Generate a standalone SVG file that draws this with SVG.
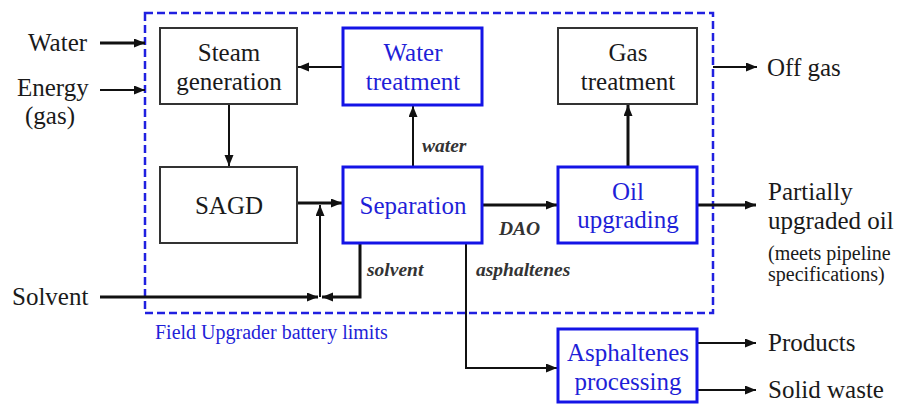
<svg xmlns="http://www.w3.org/2000/svg" width="899" height="406" viewBox="0 0 899 406" font-family="Liberation Serif, Times New Roman, serif">
<style>
.t{font-size:25px;fill:#1a1a1a}
.b{fill:#1f1fd8}
.c{text-anchor:middle}
.s{font-size:20px}
.i{font-size:19.5px;font-style:italic;font-weight:bold;fill:#333}
.kb{fill:#fff;stroke:#333;stroke-width:2}
.bb{fill:#fff;stroke:#1414e6;stroke-width:3}
.ln{fill:none;stroke:#111;stroke-width:2}
.th{stroke-width:3}
</style>
<defs>
<marker id="a" markerUnits="userSpaceOnUse" markerWidth="12" markerHeight="10" refX="11" refY="4.5" orient="auto"><path d="M0,0 L11,4.5 L0,9 z" fill="#111"/></marker>
</defs>
<rect width="899" height="406" fill="#fff"/>
<g id="battery-limits">
<rect x="145" y="13" width="568" height="300" fill="none" stroke="#2020e0" stroke-width="2.5" stroke-dasharray="8,4"/>
<text x="155" y="339" class="t b" style="font-size:20px">Field Upgrader battery limits</text>
</g>
<g id="connectors">
<line class="ln th" x1="100" y1="43" x2="145" y2="43" marker-end="url(#a)"/>
<line class="ln" x1="100" y1="90" x2="145" y2="90" marker-end="url(#a)"/>
<line class="ln" x1="343" y1="67" x2="298" y2="67" marker-end="url(#a)"/>
<line class="ln" x1="229" y1="104" x2="229" y2="166" marker-end="url(#a)"/>
<line class="ln" x1="413" y1="167" x2="413" y2="106" marker-end="url(#a)"/>
<line class="ln th" x1="628" y1="167" x2="628" y2="105" marker-end="url(#a)"/>
<line class="ln" x1="713" y1="67" x2="757" y2="67" marker-end="url(#a)"/>
<line class="ln th" x1="297" y1="203" x2="342" y2="203" marker-end="url(#a)"/>
<line class="ln th" x1="100" y1="297" x2="318" y2="297" marker-end="url(#a)"/>
<line class="ln" x1="320" y1="297" x2="320" y2="205" marker-end="url(#a)"/>
<polyline class="ln th" points="360,243 360,297 322,297" marker-end="url(#a)"/>
<line class="ln th" x1="482" y1="205" x2="557" y2="205" marker-end="url(#a)"/>
<line class="ln th" x1="697" y1="205" x2="756" y2="205" marker-end="url(#a)"/>
<polyline class="ln" points="466,243 466,368 557,368" marker-end="url(#a)"/>
<line class="ln" x1="697" y1="343" x2="756" y2="343" marker-end="url(#a)"/>
<line class="ln" x1="697" y1="390" x2="756" y2="390" marker-end="url(#a)"/>
<text x="422" y="152" class="i">water</text>
<text x="499" y="235" class="i">DAO</text>
<text x="367" y="276" class="i">solvent</text>
<text x="476" y="276" class="i">asphaltenes</text>
</g>
<g id="steam-generation">
<rect class="kb" x="160" y="28" width="137" height="76"/>
<text class="t c" x="229" y="61">Steam</text>
<text class="t c" x="229" y="90">generation</text>
</g>
<g id="water-treatment">
<rect class="bb" x="343" y="28" width="139" height="77"/>
<text class="t b c" x="413" y="61">Water</text>
<text class="t b c" x="413" y="90">treatment</text>
</g>
<g id="gas-treatment">
<rect class="kb" x="558" y="28" width="139" height="76"/>
<text class="t c" x="628" y="61">Gas</text>
<text class="t c" x="628" y="90">treatment</text>
</g>
<g id="sagd">
<rect class="kb" x="160" y="167" width="137" height="76"/>
<text class="t c" x="229" y="214">SAGD</text>
</g>
<g id="separation">
<rect class="bb" x="343" y="167" width="139" height="76"/>
<text class="t b c" x="413" y="214">Separation</text>
</g>
<g id="oil-upgrading">
<rect class="bb" x="558" y="167" width="139" height="76"/>
<text class="t b c" x="628" y="200">Oil</text>
<text class="t b c" x="628" y="228">upgrading</text>
</g>
<g id="asphaltenes-processing">
<rect class="bb" x="558" y="329" width="139" height="73"/>
<text class="t b c" x="628" y="361">Asphaltenes</text>
<text class="t b c" x="628" y="390">processing</text>
</g>
<g id="labels">
<text class="t" x="28" y="51">Water</text>
<text class="t" x="17" y="96">Energy</text>
<text class="t" x="25" y="124">(gas)</text>
<text class="t" x="12" y="305">Solvent</text>
<text class="t" x="767" y="76">Off gas</text>
<text class="t" x="768" y="200">Partially</text>
<text class="t" x="768" y="229">upgraded oil</text>
<text class="t s" x="768" y="260">(meets pipeline</text>
<text class="t s" x="768" y="281">specifications)</text>
<text class="t" x="768" y="351">Products</text>
<text class="t" x="768" y="398">Solid waste</text>
</g>
</svg>
